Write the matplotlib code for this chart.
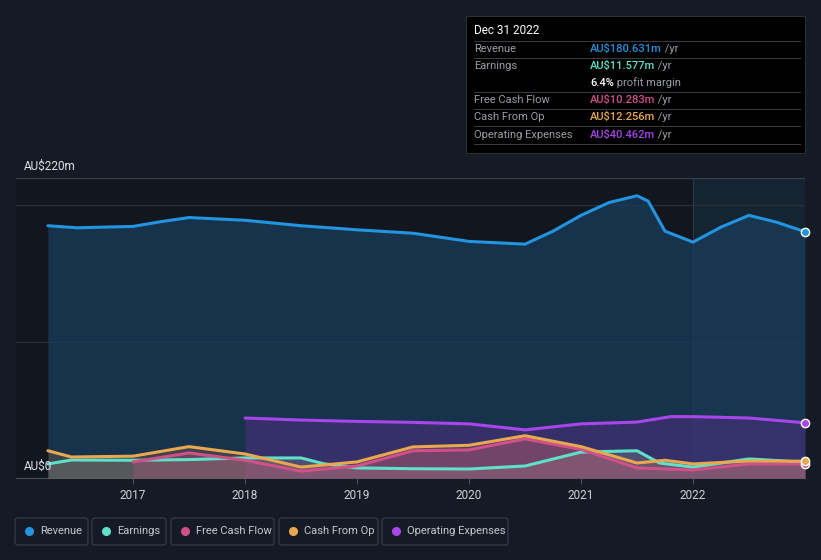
import matplotlib.pyplot as plt
from matplotlib.patches import FancyBboxPatch, Rectangle
import numpy as np

plt.rcParams['font.family'] = ['Roboto', 'DejaVu Sans']

# decimal-year dates
rev_x = [2016.24, 2016.5, 2017.0, 2017.25, 2017.5, 2018.0, 2018.5, 2019.0, 2019.5, 2020.0,
         2020.5, 2020.75, 2021.0, 2021.25, 2021.5, 2021.6, 2021.75, 2022.0, 2022.25, 2022.5,
         2022.75, 2023.0]
revenue = [185, 183.5, 184.5, 188, 191, 189, 185, 182, 179.5, 173.5,
           171.5, 181, 192.6, 202, 207, 203, 181, 173, 184, 192.6,
           187.5, 180.6]

earn_x = [2016.24, 2016.45, 2017.0, 2017.5, 2018.0, 2018.5, 2018.7, 2019.0, 2019.5, 2020.0,
          2020.5, 2021.0, 2021.5, 2021.7, 2022.0, 2022.5, 2023.0]
earnings = [10.3, 13.2, 13.0, 13.5, 14.7, 14.7, 10.5, 7.4, 6.8, 6.6,
            8.8, 19.0, 20.0, 11.0, 8.0, 14.0, 11.6]

fcf_x = [2017.0, 2017.5, 2018.0, 2018.5, 2019.0, 2019.5, 2020.0, 2020.5, 2021.0, 2021.5,
         2022.0, 2022.5, 2023.0]
fcf = [11.8, 18.4, 13.0, 5.0, 8.8, 20.0, 20.6, 28.7, 21.0, 7.4,
       5.9, 10.3, 10.3]

cfo_x = [2016.24, 2016.45, 2017.0, 2017.5, 2018.0, 2018.5, 2019.0, 2019.5, 2020.0, 2020.5,
         2021.0, 2021.5, 2021.75, 2022.0, 2022.5, 2023.0]
cfo = [20.0, 15.4, 16.0, 23.0, 17.6, 8.0, 11.8, 22.8, 24.0, 31.0,
       23.0, 11.0, 13.0, 10.3, 12.5, 12.3]

opex_x = [2018.0, 2018.5, 2019.0, 2019.5, 2020.0, 2020.5, 2021.0, 2021.5, 2021.8, 2022.0,
          2022.5, 2023.0]
opex = [44.0, 42.5, 41.5, 40.8, 39.7, 35.3, 39.7, 41.0, 45.0, 45.0,
        44.0, 40.5]

years = [2017, 2018, 2019, 2020, 2021, 2022]

BG = '#151b25'
C_REV = '#2394df'
C_EARN = '#5fe0c8'
C_FCF = '#d0508a'
C_CFO = '#e9a850'
C_OPEX = '#a746ea'

fig = plt.figure(figsize=(8.21, 5.60), dpi=100, facecolor=BG)
ax = fig.add_axes([16 / 821, 1 - 478 / 560, (805 - 16) / 821, 300 / 560])
ax.set_facecolor('#12171f')
ax.set_xlim(2015.955, 2023.0)
ax.set_ylim(0, 220)

# highlighted last year
ax.axvspan(2022.0, 2023.0, color='#16303f', alpha=0.55, lw=0, zorder=0)
ax.axvline(2022.0, color='#27394a', lw=0.8, zorder=1)

ax.axhline(200, color='#2a303a', lw=0.8, zorder=1)
ax.axhline(100, color='#2a303a', lw=0.8, zorder=1)

ax.fill_between(rev_x, revenue, color='#1a3d5c', alpha=0.75, lw=0, zorder=2)
ax.fill_between(opex_x, opex, color='#5a2f8c', alpha=0.45, lw=0, zorder=3)
ax.fill_between(earn_x, earnings, color='#7a8a8a', alpha=0.35, lw=0, zorder=3)
ax.fill_between(cfo_x, cfo, color='#b07050', alpha=0.25, lw=0, zorder=3)
ax.fill_between(fcf_x, fcf, color='#c05080', alpha=0.3, lw=0, zorder=3)

kw = dict(lw=2.2, solid_joinstyle='round', solid_capstyle='round', zorder=5)
ax.plot(rev_x, revenue, color=C_REV, **kw)
ax.plot(opex_x, opex, color=C_OPEX, **kw)
ax.plot(earn_x, earnings, color=C_EARN, **kw)
ax.plot(fcf_x, fcf, color=C_FCF, **kw)
ax.plot(cfo_x, cfo, color=C_CFO, **kw)

for ys, c in [(revenue, C_REV), (opex, C_OPEX), (fcf, C_FCF), (cfo, C_CFO)]:
    ax.plot([2023.0], [ys[-1]], 'o', ms=6, color=c, mec='white', mew=1,
            zorder=6, clip_on=False)

for s in ['top', 'right', 'left']:
    ax.spines[s].set_visible(False)
ax.spines['bottom'].set_color('#4a4f58')
ax.axhline(220, color='#3c414a', lw=0.8, zorder=1)
ax.set_yticks([])
ax.set_xticks(years)
ax.set_xticklabels([str(y) for y in years], fontsize=8.5)
ax.tick_params(axis='x', colors='#4a4f58', length=4, pad=4, labelcolor='#d0d3d8')

fig.text(24 / 821, 1 - 166 / 560, 'AU$220m', color='#e0e3e8', fontsize=8.5, va='center')
fig.text(24 / 821, 1 - 466 / 560, 'AU$0', color='#e0e3e8', fontsize=8.5, va='center')

# tooltip box
fig.patches.append(Rectangle((466 / 821, 1 - 153 / 560), 339 / 821, 137 / 560,
                             transform=fig.transFigure, facecolor='#000000',
                             edgecolor='#2a2e35', lw=0.8))
fig.text(474 / 821, 1 - 31 / 560, 'Dec 31 2022', color='white', fontsize=8.5, va='center')
rows = [
    (49, 'Revenue', 'AU$180.631m', C_REV, ' /yr'),
    (66, 'Earnings', 'AU$11.577m', C_EARN, ' /yr'),
    (83, '', '6.4%', 'white', ' profit margin'),
    (100, 'Free Cash Flow', 'AU$10.283m', C_FCF, ' /yr'),
    (117, 'Cash From Op', 'AU$12.256m', C_CFO, ' /yr'),
    (135, 'Operating Expenses', 'AU$40.462m', C_OPEX, ' /yr'),
]
for y, lab, val, c, suf in rows:
    fig.text(474 / 821, 1 - y / 560, lab, color='#9a9ea5', fontsize=8, va='center')
    t = fig.text(590 / 821, 1 - y / 560, val, color=c, fontsize=8, va='center',
                 fontweight='medium')
    fig.canvas.draw()
    bb = t.get_window_extent()
    fig.text(bb.x1 / 821, 1 - y / 560, suf, color='#9a9ea5', fontsize=8, va='center')
for y in [41, 58, 92, 109, 126, 144]:
    fig.add_artist(plt.Line2D([474 / 821, 800 / 821], [1 - y / 560] * 2,
                              color='#3a3e45', lw=0.7, transform=fig.transFigure))

# legend
legend = [('Revenue', C_REV, 15, 88), ('Earnings', C_EARN, 92, 166),
          ('Free Cash Flow', C_FCF, 171, 274), ('Cash From Op', C_CFO, 279, 378),
          ('Operating Expenses', C_OPEX, 382, 508)]
for lab, c, x0, x1 in legend:
    fig.patches.append(FancyBboxPatch((x0 / 821, 1 - 545 / 560), (x1 - x0) / 821, 27 / 560,
                                      boxstyle='round,pad=0,rounding_size=0.004',
                                      transform=fig.transFigure, facecolor='none',
                                      edgecolor='#3a3f48', lw=0.8))
    fig.add_artist(plt.Line2D([(x0 + 14) / 821], [1 - 531 / 560], marker='o', ms=5.5,
                              color=c, transform=fig.transFigure))
    fig.text((x0 + 25) / 821, 1 - 531 / 560, lab, color='#c5c8ce', fontsize=8, va='center')

fig.savefig('out.png', dpi=100, facecolor=BG)
